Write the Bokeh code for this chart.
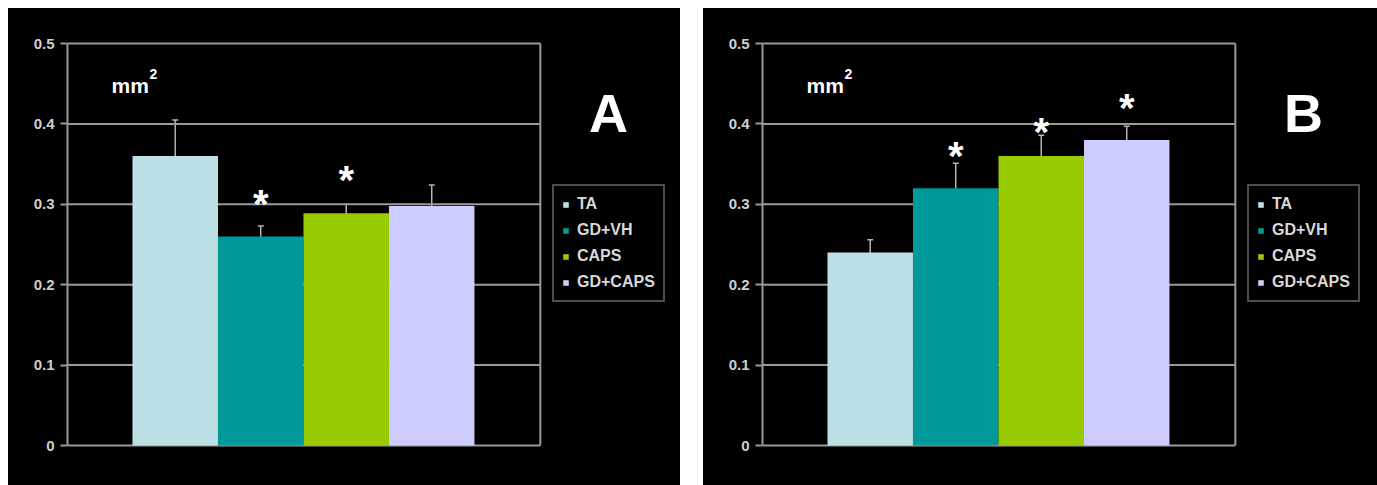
from bokeh.plotting import figure
from bokeh.layouts import row
from bokeh.models import (ColumnDataSource, Whisker, TeeHead, Legend, LegendItem,
                          Label, FixedTicker, NumeralTickFormatter, Range1d)
from bokeh.embed import file_html
from bokeh.resources import INLINE
from bokeh.core.properties import value

groups = ["TA", "GD+VH", "CAPS", "GD+CAPS"]
colors = ["#bde0e6", "#009999", "#99cc00", "#ccccff"]

means_A = [0.36, 0.26, 0.289, 0.298]
errs_A = [0.045, 0.013, 0.011, 0.026]
stars_A = [None, 0.31, 0.34, None]

means_B = [0.24, 0.32, 0.36, 0.38]
errs_B = [0.016, 0.031, 0.026, 0.017]
stars_B = [None, 0.37, 0.40, 0.43]

panel_letters = ["A", "B"]
unit_base = "mm"
unit_exp = "2"
y_ticks = [0, 0.1, 0.2, 0.3, 0.4, 0.5]

FONT = "Liberation Sans"
GRID = "#9a9a9a"
H = 477
LEFT = 59
PX_X = 85.5     # pixels per bar width
PX_Y = 804.0    # pixels per unit value
X_LO, X_HI = -1.26, 4.27   # plot-area extent in data units
TOP_PAD = 35
ZERO_FROM_TOP = 437


def make_panel(means, errs, stars, letter, width):
    frame_w = width - LEFT
    x_end = X_LO + frame_w / PX_X
    y_top = y_ticks[-1] + TOP_PAD / PX_Y
    y_bot = -(H - ZERO_FROM_TOP) / PX_Y
    p = figure(width=width, height=H, x_range=Range1d(X_LO, x_end),
               y_range=Range1d(y_bot, y_top),
               output_backend="svg", toolbar_location=None,
               background_fill_color="black", border_fill_color="black",
               min_border_left=LEFT, min_border_right=0,
               min_border_top=0, min_border_bottom=0)
    p.styles = {"background-color": "black"}
    p.xaxis.visible = False
    p.xgrid.visible = False
    p.ygrid.visible = False
    p.outline_line_color = None

    ax = p.yaxis[0]
    ax.ticker = FixedTicker(ticks=y_ticks)
    ax.bounds = (y_ticks[0], y_ticks[-1])
    ax.formatter = NumeralTickFormatter(format="0.[0]")
    ax.axis_line_color = GRID
    ax.axis_line_width = 2
    ax.major_tick_line_color = GRID
    ax.major_tick_line_width = 2
    ax.major_tick_out = 7
    ax.major_tick_in = 0
    ax.minor_tick_line_color = None
    ax.major_label_text_color = "#cfcfcf"
    ax.major_label_text_font = FONT
    ax.major_label_text_font_style = "bold"
    ax.major_label_text_font_size = "15px"
    ax.major_label_standoff = 6

    # grid lines and right border of the plot area
    n = len(y_ticks)
    p.segment(x0=[X_LO] * n, y0=y_ticks, x1=[X_HI] * n, y1=y_ticks,
              line_color=GRID, line_width=2)
    p.segment(x0=[X_HI], y0=[y_ticks[0]], x1=[X_HI], y1=[y_ticks[-1]],
              line_color=GRID, line_width=2)

    idx = list(range(len(groups)))
    items = []
    for i in idx:
        r = p.vbar(x=[i], top=[means[i]], width=1.0, bottom=0,
                   fill_color=colors[i], line_color=None)
        items.append(LegendItem(label=groups[i], renderers=[r]))

    src = ColumnDataSource(dict(x=idx,
                                upper=[m + e for m, e in zip(means, errs)],
                                lower=[m - e for m, e in zip(means, errs)]))
    p.add_layout(Whisker(base="x", upper="upper", lower="lower", source=src,
                         line_color="#b4b4b4", line_width=1.5,
                         upper_head=TeeHead(size=6, line_color="#b4b4b4", line_width=1.5),
                         lower_head=TeeHead(size=3, line_color="#e8f4f4", line_width=1)))

    sx = [i for i in idx if stars[i] is not None]
    sy = [stars[i] for i in sx]
    p.text(x=sx, y=sy, text=["*"] * len(sx), text_font=value(FONT),
           text_font_size="40px", text_font_style="bold", text_color="white",
           text_align="center", text_baseline="middle", y_offset=8)

    base_y = (H - ZERO_FROM_TOP)
    legend = Legend(items=items, location=(485, base_y + 143),
                    background_fill_color="black", background_fill_alpha=1,
                    border_line_color=GRID, border_line_width=2,
                    label_text_color="#d8d8d8", label_text_font=FONT,
                    label_text_font_style="bold", label_text_font_size="16px",
                    glyph_width=7, glyph_height=7, spacing=6, padding=8,
                    margin=0, label_standoff=8, label_height=20)
    p.add_layout(legend, "center")

    p.add_layout(Label(x=541, y=base_y + 333, x_units="screen", y_units="screen", text=letter,
                       text_align="center", text_baseline="alphabetic",
                       text_font=FONT, text_font_size="54px", text_font_style="bold",
                       text_color="white"))
    p.add_layout(Label(x=44, y=base_y + 360, x_units="screen", y_units="screen", text=unit_base,
                       text_align="left", text_baseline="alphabetic",
                       text_font=FONT, text_font_size="21px", text_font_style="bold",
                       text_color="white"))
    p.add_layout(Label(x=82, y=base_y + 372, x_units="screen", y_units="screen", text=unit_exp,
                       text_align="left", text_baseline="alphabetic",
                       text_font=FONT, text_font_size="14px", text_font_style="bold",
                       text_color="white"))
    return p


pA = make_panel(means_A, errs_A, stars_A, panel_letters[0], 672)
pB = make_panel(means_B, errs_B, stars_B, panel_letters[1], 674)

layout = row(pA, pB, spacing=23, margin=(8, 0, 0, 8))
open("out.html", "w").write(file_html(layout, INLINE))
